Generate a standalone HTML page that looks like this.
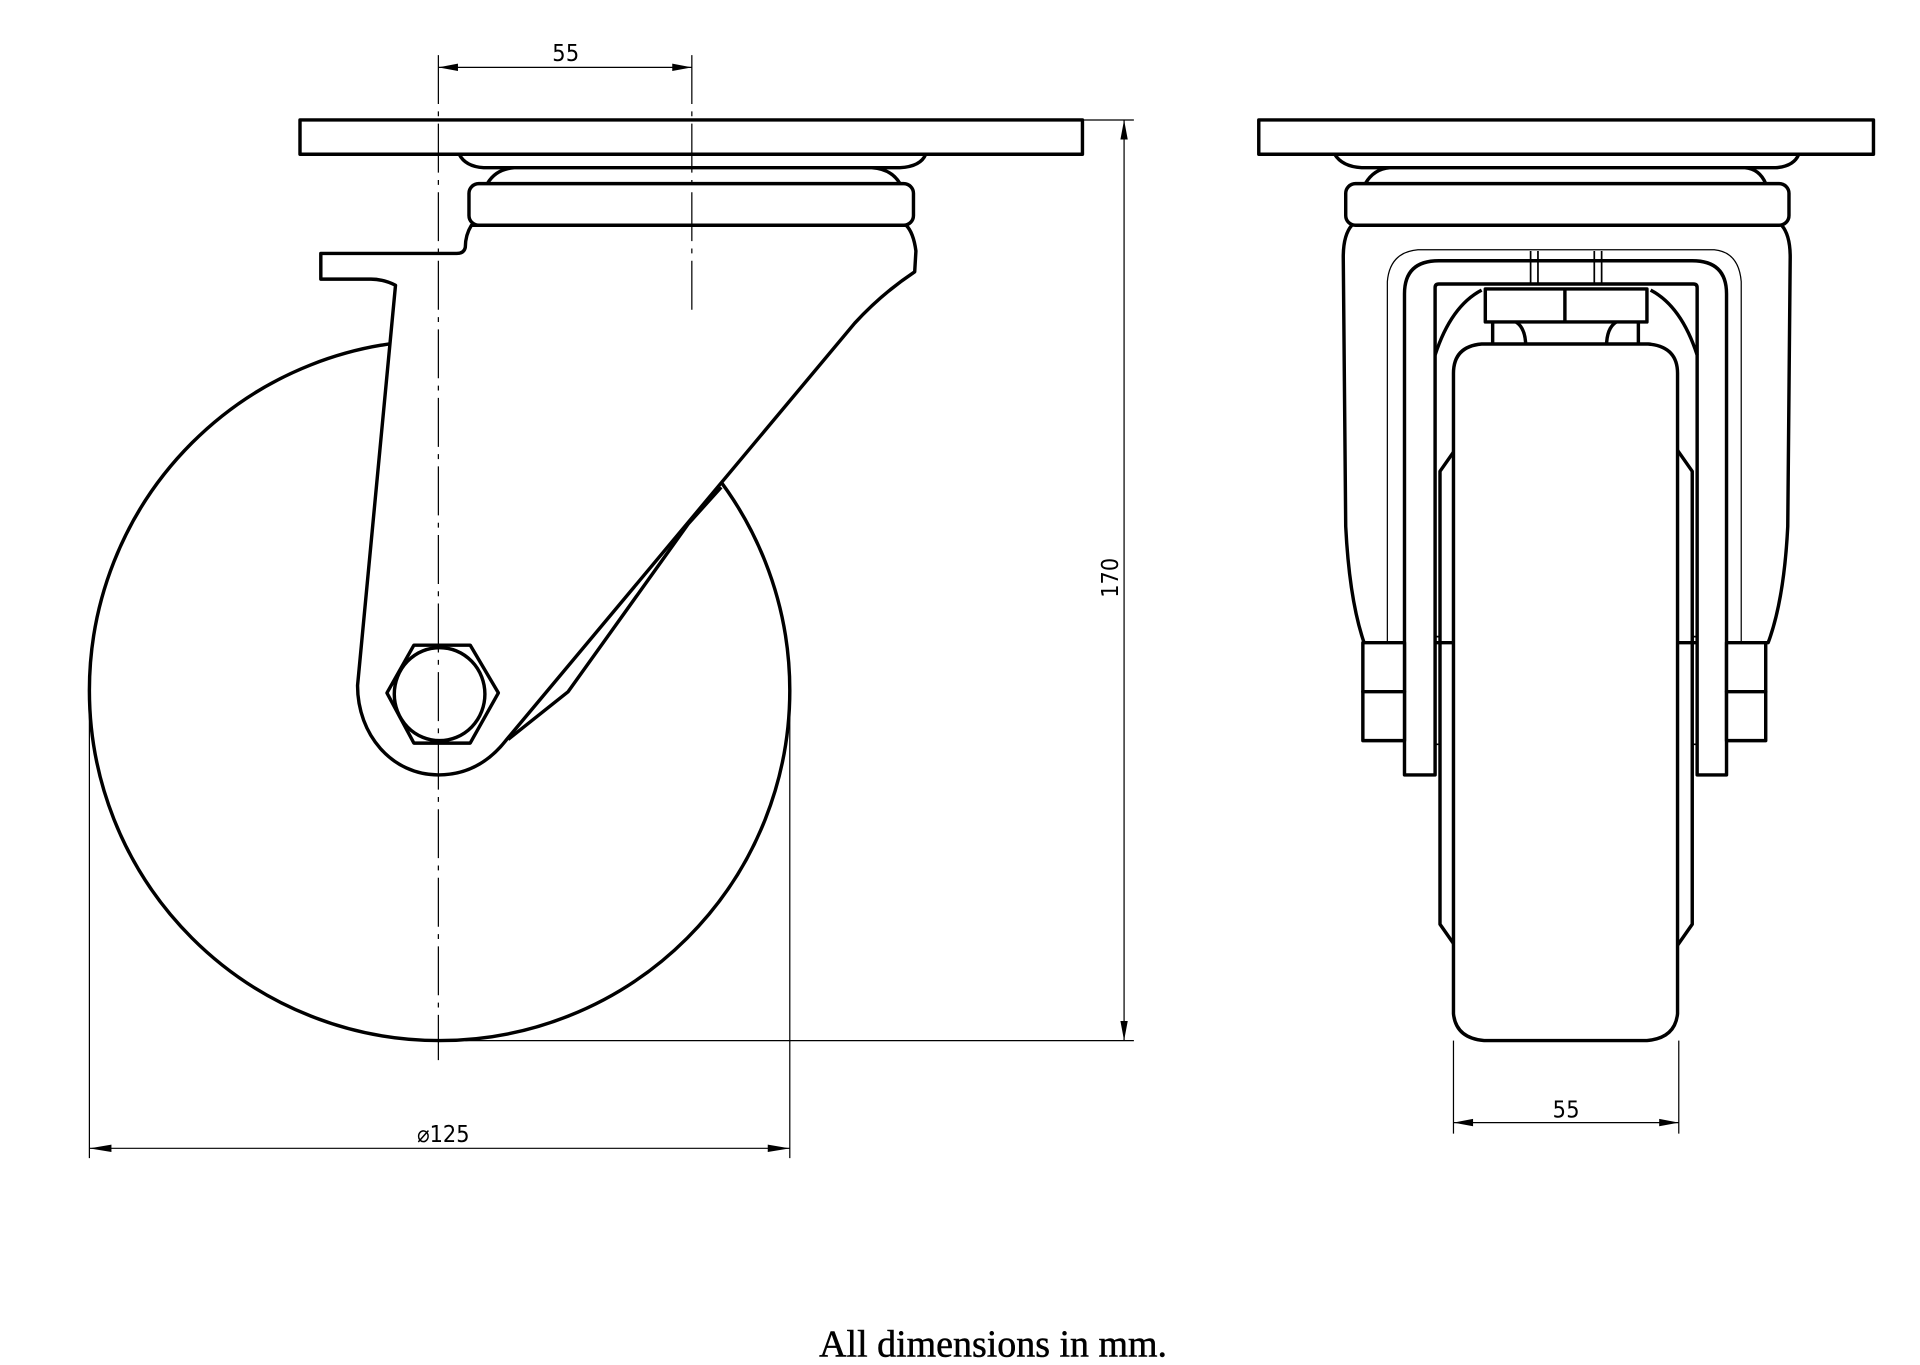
<!DOCTYPE html>
<html><head><meta charset="utf-8"><style>
html,body{margin:0;padding:0;background:#fff;}
svg{display:block;}
</style></head><body>
<svg width="1920" height="1365" viewBox="0 0 1568 1115" preserveAspectRatio="none" xmlns="http://www.w3.org/2000/svg">
<g fill="none" stroke="#000" stroke-width="2.8" stroke-linejoin="round">
<!-- LEFT VIEW -->
<circle cx="359" cy="564" r="286" fill="#fff"/>
<path d="M375,126 Q380,136 395,137 L735,137 Q752,136 756,126" fill="#fff"/>
<path d="M398,150 Q405,138 420,137 L712,137 Q728,138 735,150" fill="#fff"/>
<rect x="383" y="150" width="363" height="34" rx="8" fill="#fff"/>
<rect x="245" y="98" width="639" height="28" fill="#fff"/>
<path d="M385,184 Q380,192 380,202 Q379,207 373,207 L262,207 L262,228 L303,228 Q313,228 323,233 L292,560 C292,600 320,633 358,633 C380,633 398,624 413,605 L698,264 Q720,240 747,222 L748,205 Q746,190 740,184 Z" fill="#fff"/>
<path d="M589,398 L562,428 L464,565 L415,604" />
<polygon points="316,566 338,527 384,527 407,566 384,607 338,607" fill="#fff"/>
<ellipse cx="359" cy="567" rx="37" ry="38" fill="#fff"/>
</g>
<g stroke="#000" stroke-width="1" fill="none">
<line x1="358" y1="45" x2="358" y2="866" stroke-dasharray="40 6 4 6"/>
<line x1="565" y1="45" x2="565" y2="258" stroke-dasharray="40 6 4 6"/>
<line x1="358" y1="55" x2="565" y2="55"/>
<line x1="884" y1="98" x2="926" y2="98"/>
<line x1="380" y1="850" x2="926" y2="850"/>
<line x1="918" y1="98" x2="918" y2="850"/>
<line x1="73" y1="565" x2="73" y2="946"/>
<line x1="645" y1="565" x2="645" y2="946"/>
<line x1="73" y1="938" x2="645" y2="938"/>
<line x1="1187" y1="850" x2="1187" y2="926"/>
<line x1="1371" y1="850" x2="1371" y2="926"/>
<line x1="1187" y1="917" x2="1371" y2="917"/>
</g>
<g fill="#000">
<polygon points="358,55 374,52 374,58"/><polygon points="565,55 549,52 549,58"/>
<polygon points="918,98 915,114 921,114"/><polygon points="918,850 915,834 921,834"/>
<polygon points="73,938 91,935 91,941"/><polygon points="645,938 627,935 627,941"/>
<polygon points="1187,917 1203,914 1203,920"/><polygon points="1371,917 1355,914 1355,920"/>
</g>
<g font-family="'DejaVu Sans Condensed','Liberation Sans',sans-serif" font-size="19" fill="#000" text-anchor="middle">
<text x="462" y="50" textLength="22">55</text>
<text x="1279" y="913" textLength="22">55</text>
<text x="362" y="933">⌀125</text>
<text transform="translate(913,472) rotate(-90)" text-anchor="middle">170</text>
</g>
<!-- RIGHT VIEW -->
<g fill="none" stroke="#000" stroke-width="2.8" stroke-linejoin="round">
<path d="M1090,126 Q1096,136 1112,137 L1450,137 Q1465,136 1469,126" fill="#fff"/>
<path d="M1115,150 Q1122,138 1135,137 L1425,137 Q1437,138 1442,150" fill="#fff"/>
<rect x="1028" y="98" width="502" height="28" fill="#fff"/>
<rect x="1099" y="150" width="362" height="34" rx="8" fill="#fff"/>
<path d="M1104,184 Q1097,192 1097,210 L1099,430 Q1102,490 1114,525 L1444,525 Q1457,490 1460,430 L1462,210 Q1462,192 1455,184"/>
<path d="M1133,525 L1133,230 Q1135,206 1158,204 L1400,204 Q1420,206 1422,230 L1422,525" stroke-width="1"/>
<path d="M1147,633 L1147,240 Q1147,213 1175,213 L1382,213 Q1410,213 1410,240 L1410,633 L1386,633 L1386,235 Q1386,232 1383,232 L1175,232 Q1172,232 1172,235 L1172,633 Z" fill="#fff"/>
<path d="M1172,290 Q1185,250 1210,237 M1386,290 Q1373,250 1348,237"/>
<rect x="1113" y="525" width="34" height="40" fill="#fff"/>
<rect x="1113" y="565" width="34" height="40" fill="#fff"/>
<rect x="1410" y="525" width="32" height="40" fill="#fff"/>
<rect x="1410" y="565" width="32" height="40" fill="#fff"/>
<rect x="1213" y="236" width="132" height="27" fill="#fff"/>
<line x1="1278" y1="236" x2="1278" y2="263"/>
<path d="M1219,263 L1219,283 M1338,263 L1338,283 M1238,263 Q1246,268 1246,283 M1320,263 Q1312,268 1312,283"/>
<path d="M1250,205 L1250,232 M1256,205 L1256,232 M1302,205 L1302,232 M1308,205 L1308,232" stroke-width="1.4"/>
<path d="M1190,365 L1176,385 L1176,755 L1190,775"/>
<path d="M1368,365 L1382,385 L1382,755 L1368,775"/>
<path d="M1172,520 L1176,520 M1172,608 L1176,608 M1386,520 L1382,520 M1386,608 L1382,608" stroke-width="1.4"/>
<path d="M1187,305 Q1187,283 1210,281 L1346,281 Q1370,283 1370,305 L1370,828 Q1368,848 1345,850 L1212,850 Q1189,848 1187,828 Z" fill="#fff"/>
</g>
<text x="811" y="1108" font-family="'Liberation Serif',serif" font-size="31" text-anchor="middle" fill="#000" stroke="#000" stroke-width="0.4">All dimensions in mm.</text>
</svg>
</body></html>
